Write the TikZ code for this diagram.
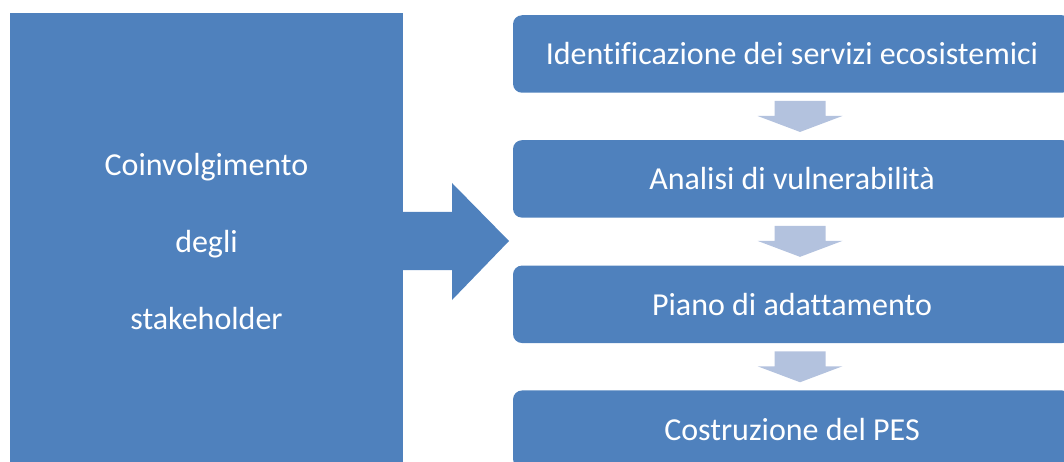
\documentclass[tikz,border=0pt]{standalone}
\usepackage{fontspec}
\setmainfont[Ligatures={NoCommon}]{Carlito}
\usetikzlibrary{positioning,calc}
\definecolor{mainBlue}{RGB}{79,129,189}
\definecolor{paleBlue}{RGB}{179,194,222}
\tikzset{
    stakeBox/.style={fill=mainBlue, text=white, minimum width=393pt, minimum height=457pt, inner sep=0pt, align=center, font=\fontsize{32}{77}\selectfont},
    stepBox/.style={fill=mainBlue, text=white, rounded corners=9pt, minimum width=558pt, minimum height=77.5pt, inner sep=0pt, font=\fontsize{32}{38}\selectfont},
    smallArrow/.style={fill=paleBlue}
}
\begin{document}
\begin{tikzpicture}[x=1pt,y=-1pt]
	\useasboundingbox (0,0) rectangle (1064,462);
	\node[stakeBox] (stake) at (206.5,241.5) {Coinvolgimento\\degli\\stakeholder};
	\node[stepBox] (ident) at (792,54) {Identificazione dei servizi ecosistemici};
	\node[stepBox, below=47pt of ident] (vuln) {Analisi di vulnerabilità};
	\node[stepBox, below=47.5pt of vuln] (piano) {Piano di adattamento};
	\node[stepBox, below=47pt of piano] (pes) {Costruzione del PES};
	% big arrow towards the steps
	\coordinate (tip) at (509,241);
	\fill[mainBlue] (stake.east |- 0,212) -- (452,212) -- (452,183) -- (tip) -- (452,300) -- (452,270) -- (stake.east |- 0,270) -- cycle;
	\foreach \a in {ident,vuln,piano}
		\fill[smallArrow] (800,0 |- \a.south) ++(-25.5,8) -- ++(51,0) -- ++(0,15) -- ++(17,0) -- ++(-42.5,16) -- ++(-42.5,-16) -- ++(17,0) -- cycle;
\end{tikzpicture}
\end{document}
